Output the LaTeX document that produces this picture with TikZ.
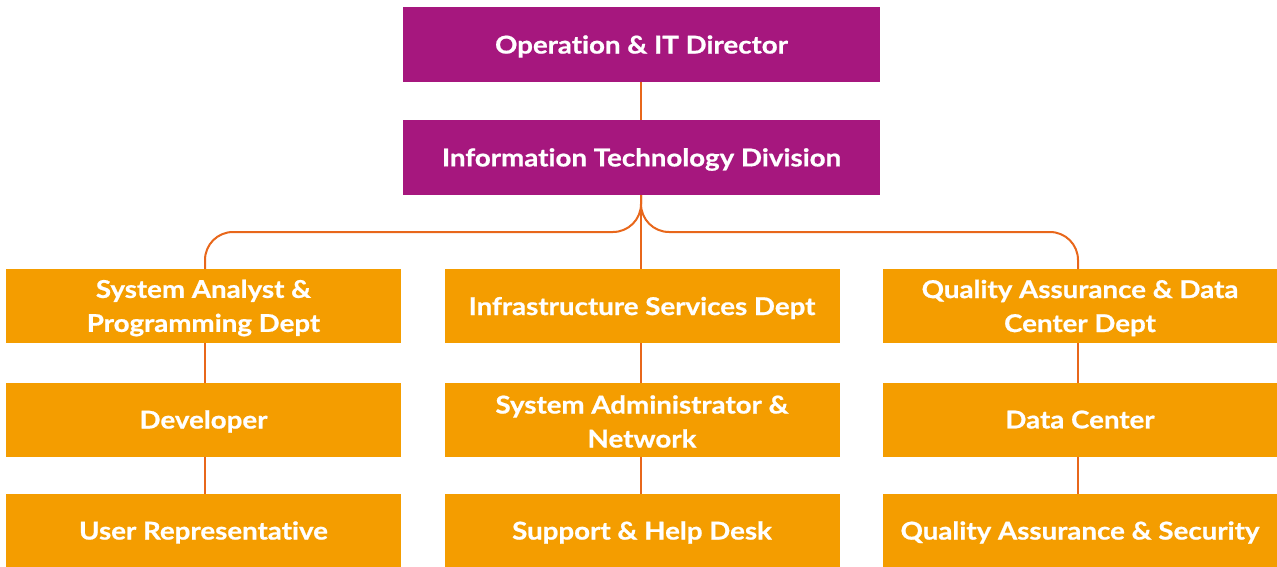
\documentclass[tikz,border=0pt]{standalone}
\usepackage{fontspec}
\setmainfont{Lato}[Ligatures=NoCommon,BoldFeatures={FakeStretch=1.13,FakeBold=0.8}]
\definecolor{purp}{HTML}{A6177E}
\definecolor{orbox}{HTML}{F49D00}
\definecolor{orline}{HTML}{E8671B}
\begin{document}
\begin{tikzpicture}[x=1pt,y=-1pt,
  txt/.style={inner sep=0pt, text=white, align=center, yshift=-2pt,
    font=\fontsize{24.5}{34}\selectfont\bfseries},
  box/.style={inner sep=0pt, outer sep=0pt},
  topbox/.style={box, fill=purp, minimum width=477pt, minimum height=75pt},
  deptbox/.style={box, fill=orbox, minimum width=395pt, minimum height=74pt},
  link/.style={draw=orline, line width=2pt}]
\useasboundingbox (0,0) rectangle (1277,567);
\node[topbox, label={[txt]center:Operation \& IT Director\vphantom{y}}] (dir) at (641.5,44.5) {};
\node[topbox, label={[txt]center:Information Technology Division}] (div) at (641.5,157.5) {};
\node[deptbox, label={[txt]center:System Analyst \&\\Programming Dept}] (sa) at (203.5,306) {};
\node[deptbox, label={[txt]center:Infrastructure Services Dept\vphantom{y}}] (inf) at (642,306) {};
\node[deptbox, label={[txt]center:Quality Assurance \& Data\\Center Dept}] (qa) at (1080,306) {};
\node[deptbox, label={[txt]center:Developer}] (dev) at (203.5,419.5) {};
\node[deptbox, label={[txt]center:System Administrator \&\\Network}] (sys) at (642,419.5) {};
\node[deptbox, label={[txt]center:Data Center\vphantom{y}}] (dc) at (1080,419.5) {};
\node[deptbox, minimum height=73pt, label={[txt]center:User Representative}] (ur) at (203.5,530.5) {};
\node[deptbox, minimum height=73pt, label={[txt]center:Support \& Help Desk}] (sup) at (642,530.5) {};
\node[deptbox, minimum height=73pt, label={[txt]center:Quality Assurance \& Security}] (qas) at (1080,530.5) {};
\draw[link] (dir.south -| 641,0) -- (div.north -| 641,0);
\draw[link, rounded corners=28pt] (div.south -| 641,0) -- (641,232) -| (sa.north -| 205,0);
\draw[link, rounded corners=28pt] (div.south -| 641,0) -- (641,232) -| (qa.north -| 1078,0);
\draw[link] (div.south -| 641,0) -- (inf.north -| 641,0);
\draw[link] (sa.south -| 205,0) -- (dev.north -| 205,0);
\draw[link] (dev.south -| 205,0) -- (ur.north -| 205,0);
\draw[link] (inf.south -| 641,0) -- (sys.north -| 641,0);
\draw[link] (sys.south -| 641,0) -- (sup.north -| 641,0);
\draw[link] (qa.south -| 1078,0) -- (dc.north -| 1078,0);
\draw[link] (dc.south -| 1078,0) -- (qas.north -| 1078,0);
\end{tikzpicture}
\end{document}
